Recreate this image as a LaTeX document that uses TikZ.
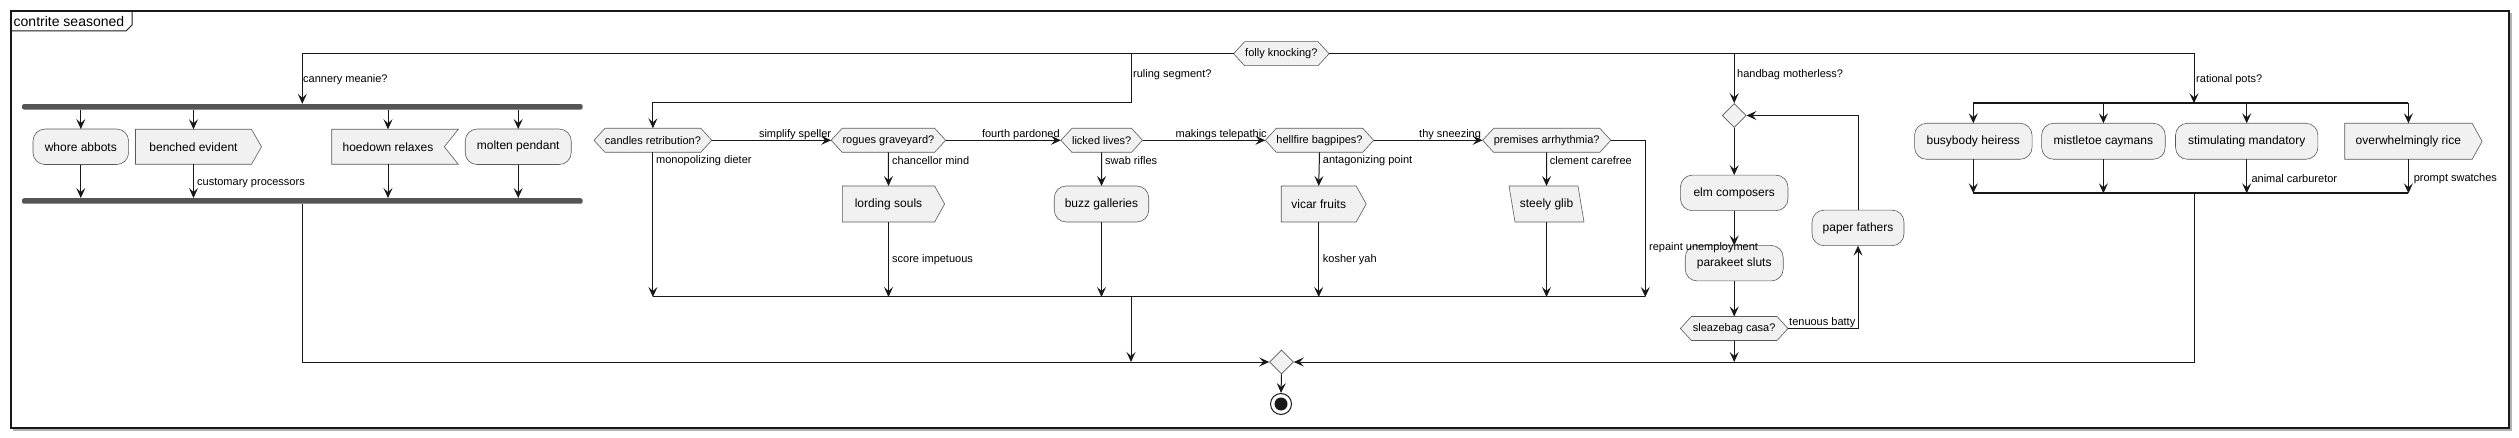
\documentclass[tikz,border=0pt]{standalone}
\usepackage{fontspec}
\setmainfont{Liberation Sans}
\usetikzlibrary{arrows.meta,shapes.geometric}
\pgfdeclarelayer{bg}
\pgfsetlayers{bg,main}
\definecolor{bx}{HTML}{F1F1F1}
\definecolor{bd}{HTML}{5A5A5A}
\definecolor{lc}{HTML}{181818}
\definecolor{fb}{HTML}{555555}
\newcommand\myfs[1]{\fontsize{#1}{#1}\selectfont}
\tikzset{
  base/.style={inner sep=0pt, outer sep=0pt, font=\myfs{12}},
  act/.style={base, rectangle, rounded corners=12pt, draw=bd, fill=bx, line width=0.6pt, minimum height=35.5},
  plain/.style={base, rectangle, minimum height=36},
  hexn/.style={base, font=\myfs{11}, minimum height=24},
  shp/.style={draw=bd, fill=bx, line width=0.6pt},
  dia/.style={diamond, draw=bd, fill=bx, line width=0.6pt, inner sep=0pt, minimum width=24, minimum height=24},
  forkbar/.style={rectangle, fill=fb, draw=none, inner sep=0pt, minimum height=5.5, rounded corners=2pt},
  lbl/.style={inner sep=0pt, font=\myfs{11}, anchor=west},
  wire/.style={draw=lc, line width=1pt},
  arr/.style={wire, -{Stealth[length=10pt,width=9pt,inset=4pt]}},
}
\newcommand\shphex[1]{\begin{pgfonlayer}{bg}\path[shp] (#1.west) -- ([xshift=11pt]#1.north west) -- ([xshift=-11pt]#1.north east) -- (#1.east) -- ([xshift=-11pt]#1.south east) -- ([xshift=11pt]#1.south west) -- cycle;\end{pgfonlayer}}
\newcommand\shpsend[1]{\begin{pgfonlayer}{bg}\path[shp] (#1.north west) -- (#1.north east) -- ([xshift=10pt]#1.east) -- (#1.south east) -- (#1.south west) -- cycle;\end{pgfonlayer}}
\newcommand\shprecv[1]{\begin{pgfonlayer}{bg}\path[shp] (#1.north west) -- ([xshift=14pt]#1.north east) -- (#1.east) -- ([xshift=14pt]#1.south east) -- (#1.south west) -- cycle;\end{pgfonlayer}}
\newcommand\shppara[1]{\begin{pgfonlayer}{bg}\path[shp] (#1.north west) -- ([xshift=-6pt]#1.north east) -- (#1.south east) -- ([xshift=6pt]#1.south west) -- cycle;\end{pgfonlayer}}
\begin{document}
\begin{tikzpicture}[x=1pt,y=-1pt]
\useasboundingbox (0,0) rectangle (2519,438);
% frame
\draw[black!30, line width=1.5pt] (13,430) -- (2511,430) -- (2511,13);
\draw[lc, line width=1.4pt] (11,11) rectangle (2509,428);
\draw[lc, line width=1pt] (11,31) -- (126,31) -- (132,25) -- (132,11);
\node[anchor=west, inner sep=0pt, font=\myfs{14}] (title) at (13.5,21) {contrite seasoned};

% top decision
\node[hexn, minimum width=95.5] (f0) at (1281.3,53.7) {folly knocking?}; \shphex{f0}

% left fork
\node[forkbar, minimum width=560.6] (fk1) at (302.3,106.8) {};
\node[act, minimum width=95.6] (wa) at (80.8,146.8) {whore abbots};
\node[plain, minimum width=116, minimum height=35] (be) at (193.5,146.8) {benched evident}; \shpsend{be}
\node[plain, minimum width=112.6, minimum height=35] (hr) at (388,146.8) {hoedown relaxes}; \shprecv{hr}
\node[act, minimum width=106] (mp) at (518.2,146.8) {molten pendant};
\node[forkbar, minimum width=560.6] (jn1) at (302.3,201) {};

% hexagon chain
\node[hexn, minimum width=117.8] (h1) at (652.9,140.3) {candles retribution?}; \shphex{h1}
\node[hexn, minimum width=114.5] (h2) at (888.4,140.3) {rogues graveyard?}; \shphex{h2}
\node[hexn, minimum width=81.6] (h3) at (1101.7,140.3) {licked lives?}; \shphex{h3}
\node[hexn, minimum width=108.4] (h4) at (1319.5,140.3) {hellfire bagpipes?}; \shphex{h4}
\node[hexn, minimum width=128.2] (h5) at (1546.7,140.3) {premises arrhythmia?}; \shphex{h5}

\node[plain, minimum width=92.2] (ls) at (888.5,204) {lording souls}; \shpsend{ls}
\node[act, minimum width=94.5, minimum height=36] (bg) at (1101.5,204) {buzz galleries};
\node[plain, minimum width=75] (vf) at (1318.7,204) {vicar fruits}; \shpsend{vf}
\node[plain, minimum width=75] (sg) at (1546.5,204) {steely glib}; \shppara{sg}

% loop
\node[dia] (lp) at (1734.2,115.5) {};
\node[act, minimum width=107.6] (ec) at (1734.2,192.9) {elm composers};
\node[act, minimum width=98] (ps) at (1734.2,263.2) {parakeet sluts};
\node[hexn, minimum width=107.6] (sc) at (1734.2,328.5) {sleazebag casa?}; \shphex{sc}
\node[act, minimum width=92] (pf) at (1858,227.9) {paper fathers};

% right split
\node[act, minimum width=117.5, minimum height=36] (bh) at (1973.3,141.3) {busybody heiress};
\node[act, minimum width=123.6, minimum height=36] (mc) at (2103.4,141.3) {mistletoe caymans};
\node[act, minimum width=142.4, minimum height=36] (sm) at (2246.7,141.3) {stimulating mandatory};
\node[plain, minimum width=127.4] (ov) at (2408.4,141.3) {overwhelmingly rice}; \shpsend{ov}

% end
\node[dia] (fin) at (1281.5,362) {};
\node[circle, draw=lc, line width=1pt, minimum size=21, inner sep=0pt] (end) at (1281,404) {};
\fill[lc] (end.center) circle (6.5pt);

% coordinates
\coordinate (r1) at (1131,53.7);
\coordinate (r2) at (1131,103);
\coordinate (m1) at (1131,297);
\coordinate (m1r) at (1645.3,297);
\coordinate (sptop) at (2194,103.3);
\coordinate (spbot) at (2194,193.3);

% top branches
\draw[arr] (f0.west) -| (fk1.north);
\draw[arr] (f0.east) -| (sptop);
\draw[arr] (r1) -- (r2) -| (h1.north);
\draw[arr] (lp.north |- f0.east) -- (lp.north);

% left fork edges
\foreach \nm in {wa,be,hr,mp} {
  \draw[arr] (\nm.north |- fk1.south) -- (\nm.north);
  \draw[arr] (\nm.south) -- (\nm.south |- jn1.north);
}
\draw[arr] (jn1.south) |- (fin.west);

% chain edges
\draw[arr] (h1.east) -- (h2.west);
\draw[arr] (h2.east) -- (h3.west);
\draw[arr] (h3.east) -- (h4.west);
\draw[arr] (h4.east) -- (h5.west);
\draw[arr] (h1.south) -- (h1.south |- m1);
\draw[arr] (h2.south) -- (ls.north);
\draw[arr] (ls.south) -- (ls.south |- m1);
\draw[arr] (h3.south) -- (bg.north);
\draw[arr] (bg.south) -- (bg.south |- m1);
\draw[arr] (h4.south) -- (vf.north);
\draw[arr] (vf.south) -- (vf.south |- m1);
\draw[arr] (h5.south) -- (sg.north);
\draw[arr] (sg.south) -- (sg.south |- m1);
\draw[arr] (h5.east) -| (m1r);
\draw[wire] (h1.south |- m1) -- (m1r);
\draw[arr] (m1) -- (m1 |- fin.west);

% loop edges
\draw[arr] (lp.south) -- (ec.north);
\draw[arr] (ec.south) -- (ps.north);
\draw[arr] (ps.south) -- (sc.north);
\draw[arr] (sc.east) -| (pf.south);
\draw[arr] (pf.north) |- (lp.east);
\draw[arr] (sc.south) -- (sc.south |- fin.east);

% split edges
\draw[draw=lc, line width=1.8pt] (bh.north |- sptop) -- (ov.north |- sptop);
\draw[draw=lc, line width=1.8pt] (bh.south |- spbot) -- (ov.south |- spbot);
\foreach \nm in {bh,mc,sm,ov} {
  \draw[arr] (\nm.north |- sptop) -- (\nm.north);
  \draw[arr] (\nm.south) -- (\nm.south |- spbot);
}
\draw[arr] (spbot) |- (fin.east);
\draw[arr] (fin.south) -- (end.north);

% labels
\node[lbl] (t1) at (303,80) {cannery meanie?};
\node[lbl] (t2) at (1133,74.7) {ruling segment?};
\node[lbl] (t3) at (1737,74.7) {handbag motherless?};
\node[lbl] (t4) at (2196,80) {rational pots?};
\node[lbl] (t5) at (197,182.7) {customary processors};
\node[lbl] (t6) at (758.8,134.7) {simplify speller};
\node[lbl] (t7) at (656,160.3) {monopolizing dieter};
\node[lbl] (t8) at (892,160.3) {chancellor mind};
\node[lbl] (t9) at (981.8,134.7) {fourth pardoned};
\node[lbl] (t10) at (1105,160.3) {swab rifles};
\node[lbl] (t11) at (1175.4,134.7) {makings telepathic};
\node[lbl] (t12) at (1322.7,160.3) {antagonizing point};
\node[lbl] (t13) at (1419,134.7) {thy sneezing};
\node[lbl] (t14) at (1549.7,160.3) {clement carefree};
\node[lbl] (t15) at (892,259.3) {score impetuous};
\node[lbl] (t16) at (1322.7,259.3) {kosher yah};
\node[lbl] (t17) at (1649,248) {repaint unemployment};
\node[lbl] (t18) at (1789,322.7) {tenuous batty};
\node[lbl] (t19) at (2251.3,178.3) {animal carburetor};
\node[lbl] (t20) at (2413.6,178.3) {prompt swatches};
\end{tikzpicture}
\end{document}
